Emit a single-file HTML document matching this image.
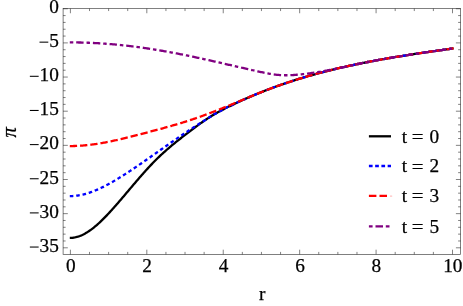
<!DOCTYPE html>
<html><head><meta charset="utf-8"><title>plot</title>
<style>
html,body{margin:0;padding:0;background:#fff;}
body{width:463px;height:306px;overflow:hidden;}
svg{display:block;font-family:"Liberation Serif",serif;fill:#000;will-change:transform;}
text{stroke:#000;stroke-width:0.25px;}
.c{fill:none;stroke-width:2.3;stroke-linecap:butt;stroke-linejoin:round;}
</style></head>
<body>
<svg width="463" height="306" viewBox="0 0 463 306">
<rect x="0" y="0" width="463" height="306" fill="#fff"/>
<g>
<path class="c" d="M69.80,237.87 L70.80,237.87 L71.80,237.83 L72.80,237.75 L73.80,237.62 L74.80,237.45 L75.80,237.24 L76.80,236.99 L77.80,236.71 L78.80,236.38 L79.80,236.02 L80.80,235.62 L81.80,235.19 L82.80,234.72 L83.80,234.22 L84.80,233.69 L85.80,233.12 L86.80,232.53 L87.80,231.90 L88.80,231.24 L89.80,230.56 L90.80,229.85 L91.80,229.11 L92.80,228.34 L93.80,227.55 L94.80,226.73 L95.80,225.89 L96.80,225.03 L97.80,224.15 L98.80,223.24 L99.80,222.32 L100.80,221.37 L101.80,220.41 L102.80,219.43 L103.80,218.43 L104.80,217.42 L105.80,216.39 L106.80,215.34 L107.80,214.28 L108.80,213.21 L109.80,212.13 L110.80,211.04 L111.80,209.93 L112.80,208.82 L113.80,207.70 L114.80,206.57 L115.80,205.43 L116.80,204.29 L117.80,203.14 L118.80,201.98 L119.80,200.82 L120.80,199.66 L121.80,198.49 L122.80,197.32 L123.80,196.15 L124.80,194.97 L125.80,193.79 L126.80,192.61 L127.80,191.43 L128.80,190.25 L129.80,189.07 L130.80,187.88 L131.80,186.70 L132.80,185.53 L133.80,184.35 L134.80,183.18 L135.80,182.00 L136.80,180.84 L137.80,179.67 L138.80,178.52 L139.80,177.36 L140.80,176.21 L141.80,175.07 L142.80,173.94 L143.80,172.81 L144.80,171.69 L145.80,170.58 L146.80,169.47 L147.80,168.38 L148.80,167.29 L149.80,166.22 L150.80,165.15 L151.80,164.10 L152.80,163.06 L153.80,162.03 L154.80,161.01 L155.80,160.01 L156.80,159.02 L157.80,158.04 L158.80,157.08 L159.80,156.12 L160.80,155.18 L161.80,154.25 L162.80,153.33 L163.80,152.42 L164.80,151.53 L165.80,150.64 L166.80,149.76 L167.80,148.89 L168.80,148.03 L169.80,147.18 L170.80,146.33 L171.80,145.49 L172.80,144.66 L173.80,143.84 L174.80,143.02 L175.80,142.21 L176.80,141.41 L177.80,140.61 L178.80,139.82 L179.80,139.03 L180.80,138.24 L181.80,137.46 L182.80,136.68 L183.80,135.91 L184.80,135.14 L185.80,134.37 L186.80,133.60 L187.80,132.83 L188.80,132.07 L189.80,131.31 L190.80,130.55 L191.80,129.79 L192.80,129.03 L193.80,128.28 L194.80,127.54 L195.80,126.79 L196.80,126.06 L197.80,125.32 L198.80,124.60 L199.80,123.87 L200.80,123.16 L201.80,122.45 L202.80,121.75 L203.80,121.05 L204.80,120.37 L205.80,119.69 L206.80,119.02 L207.80,118.36 L208.80,117.71 L209.80,117.07 L210.80,116.44 L211.80,115.82 L212.80,115.21 L213.80,114.61 L214.80,114.03 L215.80,113.45 L216.80,112.88 L217.80,112.32 L218.80,111.76 L219.80,111.22 L220.80,110.68 L221.80,110.15 L222.80,109.62 L223.80,109.11 L224.80,108.59 L225.80,108.09 L226.80,107.58 L227.80,107.08 L228.80,106.59 L229.80,106.10 L230.80,105.61 L231.80,105.13 L232.80,104.65 L233.80,104.17 L234.80,103.69 L235.80,103.22 L236.80,102.75 L237.80,102.29 L238.80,101.82 L239.80,101.36 L240.80,100.91 L241.80,100.45 L242.80,100.00 L243.80,99.55 L244.80,99.11 L245.80,98.66 L246.80,98.22 L247.80,97.79 L248.80,97.35 L249.80,96.92 L250.80,96.49 L251.80,96.07 L252.80,95.64 L253.80,95.22 L254.80,94.81 L255.80,94.39 L256.80,93.98 L257.80,93.57 L258.80,93.16 L259.80,92.76 L260.80,92.36 L261.80,91.96 L262.80,91.56 L263.80,91.17 L264.80,90.78 L265.80,90.39 L266.80,90.01 L267.80,89.62 L268.80,89.24 L269.80,88.87 L270.80,88.49 L271.80,88.12 L272.80,87.75 L273.80,87.38 L274.80,87.01 L275.80,86.65 L276.80,86.29 L277.80,85.93 L278.80,85.58 L279.80,85.23 L280.80,84.87 L281.80,84.53 L282.80,84.18 L283.80,83.84 L284.80,83.50 L285.80,83.16 L286.80,82.82 L287.80,82.49 L288.80,82.15 L289.80,81.82 L290.80,81.50 L291.80,81.17 L292.80,80.85 L293.80,80.53 L294.80,80.21 L295.80,79.89 L296.80,79.58 L297.80,79.27 L298.80,78.96 L299.80,78.65 L300.80,78.34 L301.80,78.04 L302.80,77.74 L303.80,77.44 L304.80,77.14 L305.80,76.85 L306.80,76.56 L307.80,76.26 L308.80,75.98 L309.80,75.69 L310.80,75.40 L311.80,75.12 L312.80,74.84 L313.80,74.56 L314.80,74.28 L315.80,74.01 L316.80,73.73 L317.80,73.46 L318.80,73.19 L319.80,72.92 L320.80,72.66 L321.80,72.39 L322.80,72.13 L323.80,71.87 L324.80,71.61 L325.80,71.36 L326.80,71.10 L327.80,70.85 L328.80,70.60 L329.80,70.35 L330.80,70.10 L331.80,69.85 L332.80,69.61 L333.80,69.36 L334.80,69.12 L335.80,68.88 L336.80,68.65 L337.80,68.41 L338.80,68.17 L339.80,67.94 L340.80,67.71 L341.80,67.48 L342.80,67.25 L343.80,67.02 L344.80,66.80 L345.80,66.57 L346.80,66.35 L347.80,66.13 L348.80,65.91 L349.80,65.69 L350.80,65.48 L351.80,65.26 L352.80,65.05 L353.80,64.83 L354.80,64.62 L355.80,64.41 L356.80,64.20 L357.80,64.00 L358.80,63.79 L359.80,63.59 L360.80,63.38 L361.80,63.18 L362.80,62.98 L363.80,62.78 L364.80,62.59 L365.80,62.39 L366.80,62.19 L367.80,62.00 L368.80,61.81 L369.80,61.61 L370.80,61.42 L371.80,61.23 L372.80,61.05 L373.80,60.86 L374.80,60.67 L375.80,60.49 L376.80,60.30 L377.80,60.12 L378.80,59.94 L379.80,59.76 L380.80,59.58 L381.80,59.40 L382.80,59.22 L383.80,59.04 L384.80,58.87 L385.80,58.69 L386.80,58.52 L387.80,58.35 L388.80,58.17 L389.80,58.00 L390.80,57.83 L391.80,57.66 L392.80,57.50 L393.80,57.33 L394.80,57.16 L395.80,56.99 L396.80,56.83 L397.80,56.67 L398.80,56.50 L399.80,56.34 L400.80,56.18 L401.80,56.02 L402.80,55.85 L403.80,55.70 L404.80,55.54 L405.80,55.38 L406.80,55.22 L407.80,55.06 L408.80,54.91 L409.80,54.75 L410.80,54.60 L411.80,54.44 L412.80,54.29 L413.80,54.13 L414.80,53.98 L415.80,53.83 L416.80,53.68 L417.80,53.53 L418.80,53.37 L419.80,53.22 L420.80,53.07 L421.80,52.93 L422.80,52.78 L423.80,52.63 L424.80,52.48 L425.80,52.33 L426.80,52.19 L427.80,52.04 L428.80,51.89 L429.80,51.75 L430.80,51.60 L431.80,51.46 L432.80,51.31 L433.80,51.17 L434.80,51.02 L435.80,50.88 L436.80,50.73 L437.80,50.59 L438.80,50.45 L439.80,50.30 L440.80,50.16 L441.80,50.02 L442.80,49.88 L443.80,49.73 L444.80,49.59 L445.80,49.45 L446.80,49.31 L447.80,49.17 L448.80,49.02 L449.80,48.88 L450.80,48.74 L451.80,48.60 L452.80,48.46 L453.60,48.35" stroke="#000"/>
<path class="c" d="M69.80,196.08 L70.80,196.07 L71.80,196.04 L72.80,196.00 L73.80,195.93 L74.80,195.85 L75.80,195.75 L76.80,195.62 L77.80,195.49 L78.80,195.33 L79.80,195.16 L80.80,194.97 L81.80,194.76 L82.80,194.54 L83.80,194.30 L84.80,194.04 L85.80,193.77 L86.80,193.48 L87.80,193.18 L88.80,192.87 L89.80,192.54 L90.80,192.20 L91.80,191.84 L92.80,191.47 L93.80,191.08 L94.80,190.69 L95.80,190.28 L96.80,189.86 L97.80,189.43 L98.80,188.98 L99.80,188.53 L100.80,188.06 L101.80,187.58 L102.80,187.10 L103.80,186.60 L104.80,186.09 L105.80,185.57 L106.80,185.05 L107.80,184.51 L108.80,183.97 L109.80,183.42 L110.80,182.86 L111.80,182.29 L112.80,181.71 L113.80,181.13 L114.80,180.54 L115.80,179.95 L116.80,179.35 L117.80,178.74 L118.80,178.13 L119.80,177.51 L120.80,176.88 L121.80,176.26 L122.80,175.62 L123.80,174.99 L124.80,174.35 L125.80,173.70 L126.80,173.05 L127.80,172.40 L128.80,171.75 L129.80,171.09 L130.80,170.43 L131.80,169.77 L132.80,169.10 L133.80,168.43 L134.80,167.76 L135.80,167.09 L136.80,166.41 L137.80,165.73 L138.80,165.05 L139.80,164.37 L140.80,163.68 L141.80,162.99 L142.80,162.31 L143.80,161.61 L144.80,160.92 L145.80,160.23 L146.80,159.53 L147.80,158.84 L148.80,158.14 L149.80,157.44 L150.80,156.74 L151.80,156.04 L152.80,155.34 L153.80,154.64 L154.80,153.94 L155.80,153.24 L156.80,152.54 L157.80,151.83 L158.80,151.13 L159.80,150.43 L160.80,149.72 L161.80,149.02 L162.80,148.32 L163.80,147.62 L164.80,146.92 L165.80,146.22 L166.80,145.52 L167.80,144.82 L168.80,144.12 L169.80,143.43 L170.80,142.73 L171.80,142.04 L172.80,141.34 L173.80,140.65 L174.80,139.96 L175.80,139.28 L176.80,138.59 L177.80,137.91 L178.80,137.22 L179.80,136.54 L180.80,135.86 L181.80,135.19 L182.80,134.51 L183.80,133.84 L184.80,133.17 L185.80,132.50 L186.80,131.84 L187.80,131.17 L188.80,130.51 L189.80,129.85 L190.80,129.20 L191.80,128.54 L192.80,127.89 L193.80,127.24 L194.80,126.60 L195.80,125.95 L196.80,125.31 L197.80,124.68 L198.80,124.04 L199.80,123.41 L200.80,122.78 L201.80,122.16 L202.80,121.54 L203.80,120.93 L204.80,120.31 L205.80,119.69 L206.80,119.06 L207.80,118.42 L208.80,117.78 L209.80,117.13 L210.80,116.48 L211.80,115.85 L212.80,115.22 L213.80,114.61 L214.80,114.03 L215.80,113.45 L216.80,112.88 L217.80,112.32 L218.80,111.76 L219.80,111.22 L220.80,110.68 L221.80,110.15 L222.80,109.62 L223.80,109.11 L224.80,108.59 L225.80,108.09 L226.80,107.58 L227.80,107.08 L228.80,106.59 L229.80,106.10 L230.80,105.61 L231.80,105.13 L232.80,104.65 L233.80,104.17 L234.80,103.69 L235.80,103.22 L236.80,102.75 L237.80,102.29 L238.80,101.82 L239.80,101.36 L240.80,100.91 L241.80,100.45 L242.80,100.00 L243.80,99.55 L244.80,99.11 L245.80,98.66 L246.80,98.22 L247.80,97.79 L248.80,97.35 L249.80,96.92 L250.80,96.49 L251.80,96.07 L252.80,95.64 L253.80,95.22 L254.80,94.81 L255.80,94.39 L256.80,93.98 L257.80,93.57 L258.80,93.16 L259.80,92.76 L260.80,92.36 L261.80,91.96 L262.80,91.56 L263.80,91.17 L264.80,90.78 L265.80,90.39 L266.80,90.01 L267.80,89.62 L268.80,89.24 L269.80,88.87 L270.80,88.49 L271.80,88.12 L272.80,87.75 L273.80,87.38 L274.80,87.01 L275.80,86.65 L276.80,86.29 L277.80,85.93 L278.80,85.58 L279.80,85.23 L280.80,84.87 L281.80,84.53 L282.80,84.18 L283.80,83.84 L284.80,83.50 L285.80,83.16 L286.80,82.82 L287.80,82.49 L288.80,82.15 L289.80,81.82 L290.80,81.50 L291.80,81.17 L292.80,80.85 L293.80,80.53 L294.80,80.21 L295.80,79.89 L296.80,79.58 L297.80,79.27 L298.80,78.96 L299.80,78.65 L300.80,78.34 L301.80,78.04 L302.80,77.74 L303.80,77.44 L304.80,77.14 L305.80,76.85 L306.80,76.56 L307.80,76.26 L308.80,75.98 L309.80,75.69 L310.80,75.40 L311.80,75.12 L312.80,74.84 L313.80,74.56 L314.80,74.28 L315.80,74.01 L316.80,73.73 L317.80,73.46 L318.80,73.19 L319.80,72.92 L320.80,72.66 L321.80,72.39 L322.80,72.13 L323.80,71.87 L324.80,71.61 L325.80,71.36 L326.80,71.10 L327.80,70.85 L328.80,70.60 L329.80,70.35 L330.80,70.10 L331.80,69.85 L332.80,69.61 L333.80,69.36 L334.80,69.12 L335.80,68.88 L336.80,68.65 L337.80,68.41 L338.80,68.17 L339.80,67.94 L340.80,67.71 L341.80,67.48 L342.80,67.25 L343.80,67.02 L344.80,66.80 L345.80,66.57 L346.80,66.35 L347.80,66.13 L348.80,65.91 L349.80,65.69 L350.80,65.48 L351.80,65.26 L352.80,65.05 L353.80,64.83 L354.80,64.62 L355.80,64.41 L356.80,64.20 L357.80,64.00 L358.80,63.79 L359.80,63.59 L360.80,63.38 L361.80,63.18 L362.80,62.98 L363.80,62.78 L364.80,62.59 L365.80,62.39 L366.80,62.19 L367.80,62.00 L368.80,61.81 L369.80,61.61 L370.80,61.42 L371.80,61.23 L372.80,61.05 L373.80,60.86 L374.80,60.67 L375.80,60.49 L376.80,60.30 L377.80,60.12 L378.80,59.94 L379.80,59.76 L380.80,59.58 L381.80,59.40 L382.80,59.22 L383.80,59.04 L384.80,58.87 L385.80,58.69 L386.80,58.52 L387.80,58.35 L388.80,58.17 L389.80,58.00 L390.80,57.83 L391.80,57.66 L392.80,57.50 L393.80,57.33 L394.80,57.16 L395.80,56.99 L396.80,56.83 L397.80,56.67 L398.80,56.50 L399.80,56.34 L400.80,56.18 L401.80,56.02 L402.80,55.85 L403.80,55.70 L404.80,55.54 L405.80,55.38 L406.80,55.22 L407.80,55.06 L408.80,54.91 L409.80,54.75 L410.80,54.60 L411.80,54.44 L412.80,54.29 L413.80,54.13 L414.80,53.98 L415.80,53.83 L416.80,53.68 L417.80,53.53 L418.80,53.37 L419.80,53.22 L420.80,53.07 L421.80,52.93 L422.80,52.78 L423.80,52.63 L424.80,52.48 L425.80,52.33 L426.80,52.19 L427.80,52.04 L428.80,51.89 L429.80,51.75 L430.80,51.60 L431.80,51.46 L432.80,51.31 L433.80,51.17 L434.80,51.02 L435.80,50.88 L436.80,50.73 L437.80,50.59 L438.80,50.45 L439.80,50.30 L440.80,50.16 L441.80,50.02 L442.80,49.88 L443.80,49.73 L444.80,49.59 L445.80,49.45 L446.80,49.31 L447.80,49.17 L448.80,49.02 L449.80,48.88 L450.80,48.74 L451.80,48.60 L452.80,48.46 L453.60,48.35" stroke="#0000ff" stroke-dasharray="3.55 2.875"/>
<path class="c" d="M69.80,146.04 L70.80,146.05 L71.80,146.04 L72.80,146.03 L73.80,146.01 L74.80,145.98 L75.80,145.95 L76.80,145.91 L77.80,145.86 L78.80,145.81 L79.80,145.75 L80.80,145.68 L81.80,145.61 L82.80,145.54 L83.80,145.45 L84.80,145.36 L85.80,145.27 L86.80,145.17 L87.80,145.06 L88.80,144.95 L89.80,144.83 L90.80,144.71 L91.80,144.59 L92.80,144.45 L93.80,144.32 L94.80,144.17 L95.80,144.03 L96.80,143.88 L97.80,143.72 L98.80,143.56 L99.80,143.40 L100.80,143.23 L101.80,143.05 L102.80,142.88 L103.80,142.70 L104.80,142.51 L105.80,142.32 L106.80,142.13 L107.80,141.94 L108.80,141.74 L109.80,141.53 L110.80,141.33 L111.80,141.12 L112.80,140.90 L113.80,140.69 L114.80,140.47 L115.80,140.25 L116.80,140.03 L117.80,139.80 L118.80,139.57 L119.80,139.34 L120.80,139.10 L121.80,138.87 L122.80,138.63 L123.80,138.39 L124.80,138.15 L125.80,137.90 L126.80,137.66 L127.80,137.41 L128.80,137.16 L129.80,136.91 L130.80,136.66 L131.80,136.41 L132.80,136.15 L133.80,135.90 L134.80,135.64 L135.80,135.38 L136.80,135.12 L137.80,134.86 L138.80,134.60 L139.80,134.34 L140.80,134.08 L141.80,133.82 L142.80,133.56 L143.80,133.30 L144.80,133.04 L145.80,132.78 L146.80,132.52 L147.80,132.26 L148.80,131.99 L149.80,131.73 L150.80,131.47 L151.80,131.21 L152.80,130.94 L153.80,130.68 L154.80,130.41 L155.80,130.15 L156.80,129.88 L157.80,129.62 L158.80,129.35 L159.80,129.08 L160.80,128.81 L161.80,128.54 L162.80,128.27 L163.80,127.99 L164.80,127.72 L165.80,127.44 L166.80,127.17 L167.80,126.89 L168.80,126.61 L169.80,126.32 L170.80,126.04 L171.80,125.75 L172.80,125.47 L173.80,125.18 L174.80,124.89 L175.80,124.59 L176.80,124.30 L177.80,124.00 L178.80,123.70 L179.80,123.40 L180.80,123.09 L181.80,122.79 L182.80,122.48 L183.80,122.17 L184.80,121.85 L185.80,121.53 L186.80,121.21 L187.80,120.89 L188.80,120.57 L189.80,120.24 L190.80,119.91 L191.80,119.58 L192.80,119.24 L193.80,118.90 L194.80,118.56 L195.80,118.22 L196.80,117.87 L197.80,117.53 L198.80,117.18 L199.80,116.82 L200.80,116.47 L201.80,116.11 L202.80,115.75 L203.80,115.39 L204.80,115.02 L205.80,114.65 L206.80,114.28 L207.80,113.91 L208.80,113.54 L209.80,113.16 L210.80,112.78 L211.80,112.40 L212.80,112.01 L213.80,111.63 L214.80,111.24 L215.80,110.85 L216.80,110.45 L217.80,110.06 L218.80,109.66 L219.80,109.26 L220.80,108.86 L221.80,108.46 L222.80,108.05 L223.80,107.65 L224.80,107.24 L225.80,106.83 L226.80,106.42 L227.80,106.01 L228.80,105.60 L229.80,105.19 L230.80,104.77 L231.80,104.36 L232.80,103.94 L233.80,103.53 L234.80,103.11 L235.80,102.70 L236.80,102.28 L237.80,101.86 L238.80,101.44 L239.80,101.03 L240.80,100.61 L241.80,100.19 L242.80,99.78 L243.80,99.36 L244.80,98.94 L245.80,98.53 L246.80,98.11 L247.80,97.70 L248.80,97.28 L249.80,96.87 L250.80,96.46 L251.80,96.05 L252.80,95.63 L253.80,95.23 L254.80,94.82 L255.80,94.41 L256.80,94.00 L257.80,93.59 L258.80,93.19 L259.80,92.78 L260.80,92.38 L261.80,91.97 L262.80,91.57 L263.80,91.18 L264.80,90.78 L265.80,90.39 L266.80,90.01 L267.80,89.62 L268.80,89.24 L269.80,88.87 L270.80,88.49 L271.80,88.12 L272.80,87.75 L273.80,87.38 L274.80,87.01 L275.80,86.65 L276.80,86.29 L277.80,85.93 L278.80,85.58 L279.80,85.23 L280.80,84.87 L281.80,84.53 L282.80,84.18 L283.80,83.84 L284.80,83.50 L285.80,83.16 L286.80,82.82 L287.80,82.49 L288.80,82.15 L289.80,81.82 L290.80,81.50 L291.80,81.17 L292.80,80.85 L293.80,80.53 L294.80,80.21 L295.80,79.89 L296.80,79.58 L297.80,79.27 L298.80,78.96 L299.80,78.65 L300.80,78.34 L301.80,78.04 L302.80,77.74 L303.80,77.44 L304.80,77.14 L305.80,76.85 L306.80,76.56 L307.80,76.26 L308.80,75.98 L309.80,75.69 L310.80,75.40 L311.80,75.12 L312.80,74.84 L313.80,74.56 L314.80,74.28 L315.80,74.01 L316.80,73.73 L317.80,73.46 L318.80,73.19 L319.80,72.92 L320.80,72.66 L321.80,72.39 L322.80,72.13 L323.80,71.87 L324.80,71.61 L325.80,71.36 L326.80,71.10 L327.80,70.85 L328.80,70.60 L329.80,70.35 L330.80,70.10 L331.80,69.85 L332.80,69.61 L333.80,69.36 L334.80,69.12 L335.80,68.88 L336.80,68.65 L337.80,68.41 L338.80,68.17 L339.80,67.94 L340.80,67.71 L341.80,67.48 L342.80,67.25 L343.80,67.02 L344.80,66.80 L345.80,66.57 L346.80,66.35 L347.80,66.13 L348.80,65.91 L349.80,65.69 L350.80,65.48 L351.80,65.26 L352.80,65.05 L353.80,64.83 L354.80,64.62 L355.80,64.41 L356.80,64.20 L357.80,64.00 L358.80,63.79 L359.80,63.59 L360.80,63.38 L361.80,63.18 L362.80,62.98 L363.80,62.78 L364.80,62.59 L365.80,62.39 L366.80,62.19 L367.80,62.00 L368.80,61.81 L369.80,61.61 L370.80,61.42 L371.80,61.23 L372.80,61.05 L373.80,60.86 L374.80,60.67 L375.80,60.49 L376.80,60.30 L377.80,60.12 L378.80,59.94 L379.80,59.76 L380.80,59.58 L381.80,59.40 L382.80,59.22 L383.80,59.04 L384.80,58.87 L385.80,58.69 L386.80,58.52 L387.80,58.35 L388.80,58.17 L389.80,58.00 L390.80,57.83 L391.80,57.66 L392.80,57.50 L393.80,57.33 L394.80,57.16 L395.80,56.99 L396.80,56.83 L397.80,56.67 L398.80,56.50 L399.80,56.34 L400.80,56.18 L401.80,56.02 L402.80,55.85 L403.80,55.70 L404.80,55.54 L405.80,55.38 L406.80,55.22 L407.80,55.06 L408.80,54.91 L409.80,54.75 L410.80,54.60 L411.80,54.44 L412.80,54.29 L413.80,54.13 L414.80,53.98 L415.80,53.83 L416.80,53.68 L417.80,53.53 L418.80,53.37 L419.80,53.22 L420.80,53.07 L421.80,52.93 L422.80,52.78 L423.80,52.63 L424.80,52.48 L425.80,52.33 L426.80,52.19 L427.80,52.04 L428.80,51.89 L429.80,51.75 L430.80,51.60 L431.80,51.46 L432.80,51.31 L433.80,51.17 L434.80,51.02 L435.80,50.88 L436.80,50.73 L437.80,50.59 L438.80,50.45 L439.80,50.30 L440.80,50.16 L441.80,50.02 L442.80,49.88 L443.80,49.73 L444.80,49.59 L445.80,49.45 L446.80,49.31 L447.80,49.17 L448.80,49.02 L449.80,48.88 L450.80,48.74 L451.80,48.60 L452.80,48.46 L453.60,48.35" stroke="#ff0000" stroke-dasharray="7.3 2.98"/>
<path class="c" d="M69.80,42.41 L70.80,42.41 L71.80,42.41 L72.80,42.41 L73.80,42.42 L74.80,42.43 L75.80,42.44 L76.80,42.45 L77.80,42.46 L78.80,42.48 L79.80,42.50 L80.80,42.52 L81.80,42.54 L82.80,42.57 L83.80,42.60 L84.80,42.63 L85.80,42.66 L86.80,42.69 L87.80,42.73 L88.80,42.76 L89.80,42.80 L90.80,42.85 L91.80,42.89 L92.80,42.94 L93.80,42.99 L94.80,43.04 L95.80,43.09 L96.80,43.14 L97.80,43.20 L98.80,43.26 L99.80,43.32 L100.80,43.38 L101.80,43.45 L102.80,43.52 L103.80,43.58 L104.80,43.66 L105.80,43.73 L106.80,43.80 L107.80,43.88 L108.80,43.96 L109.80,44.04 L110.80,44.12 L111.80,44.21 L112.80,44.29 L113.80,44.38 L114.80,44.47 L115.80,44.57 L116.80,44.66 L117.80,44.76 L118.80,44.85 L119.80,44.95 L120.80,45.06 L121.80,45.16 L122.80,45.27 L123.80,45.37 L124.80,45.48 L125.80,45.59 L126.80,45.71 L127.80,45.82 L128.80,45.94 L129.80,46.06 L130.80,46.18 L131.80,46.30 L132.80,46.42 L133.80,46.55 L134.80,46.68 L135.80,46.80 L136.80,46.94 L137.80,47.07 L138.80,47.20 L139.80,47.34 L140.80,47.48 L141.80,47.62 L142.80,47.76 L143.80,47.90 L144.80,48.04 L145.80,48.19 L146.80,48.34 L147.80,48.49 L148.80,48.64 L149.80,48.79 L150.80,48.95 L151.80,49.10 L152.80,49.26 L153.80,49.42 L154.80,49.58 L155.80,49.74 L156.80,49.91 L157.80,50.07 L158.80,50.24 L159.80,50.41 L160.80,50.58 L161.80,50.75 L162.80,50.92 L163.80,51.10 L164.80,51.27 L165.80,51.45 L166.80,51.63 L167.80,51.81 L168.80,51.99 L169.80,52.17 L170.80,52.36 L171.80,52.54 L172.80,52.73 L173.80,52.92 L174.80,53.11 L175.80,53.30 L176.80,53.49 L177.80,53.68 L178.80,53.88 L179.80,54.07 L180.80,54.27 L181.80,54.47 L182.80,54.67 L183.80,54.87 L184.80,55.07 L185.80,55.27 L186.80,55.47 L187.80,55.68 L188.80,55.88 L189.80,56.09 L190.80,56.30 L191.80,56.50 L192.80,56.71 L193.80,56.92 L194.80,57.13 L195.80,57.35 L196.80,57.56 L197.80,57.77 L198.80,57.99 L199.80,58.21 L200.80,58.42 L201.80,58.64 L202.80,58.86 L203.80,59.08 L204.80,59.30 L205.80,59.52 L206.80,59.74 L207.80,59.96 L208.80,60.19 L209.80,60.41 L210.80,60.64 L211.80,60.86 L212.80,61.09 L213.80,61.31 L214.80,61.54 L215.80,61.77 L216.80,62.00 L217.80,62.22 L218.80,62.45 L219.80,62.68 L220.80,62.91 L221.80,63.14 L222.80,63.37 L223.80,63.60 L224.80,63.83 L225.80,64.06 L226.80,64.29 L227.80,64.52 L228.80,64.76 L229.80,64.99 L230.80,65.22 L231.80,65.45 L232.80,65.68 L233.80,65.91 L234.80,66.14 L235.80,66.37 L236.80,66.60 L237.80,66.83 L238.80,67.06 L239.80,67.30 L240.80,67.52 L241.80,67.75 L242.80,67.98 L243.80,68.21 L244.80,68.44 L245.80,68.67 L246.80,68.90 L247.80,69.12 L248.80,69.35 L249.80,69.58 L250.80,69.80 L251.80,70.03 L252.80,70.25 L253.80,70.48 L254.80,70.70 L255.80,70.92 L256.80,71.14 L257.80,71.36 L258.80,71.58 L259.80,71.80 L260.80,72.02 L261.80,72.23 L262.80,72.45 L263.80,72.66 L264.80,72.86 L265.80,73.06 L266.80,73.26 L267.80,73.44 L268.80,73.63 L269.80,73.80 L270.80,73.97 L271.80,74.13 L272.80,74.28 L273.80,74.42 L274.80,74.56 L275.80,74.68 L276.80,74.79 L277.80,74.88 L278.80,74.97 L279.80,75.04 L280.80,75.11 L281.80,75.16 L282.80,75.19 L283.80,75.22 L284.80,75.24 L285.80,75.25 L286.80,75.24 L287.80,75.23 L288.80,75.21 L289.80,75.18 L290.80,75.14 L291.80,75.10 L292.80,75.04 L293.80,74.98 L294.80,74.92 L295.80,74.84 L296.80,74.76 L297.80,74.67 L298.80,74.58 L299.80,74.49 L300.80,74.38 L301.80,74.28 L302.80,74.17 L303.80,74.05 L304.80,73.93 L305.80,73.81 L306.80,73.69 L307.80,73.56 L308.80,73.43 L309.80,73.29 L310.80,73.15 L311.80,73.01 L312.80,72.86 L313.80,72.71 L314.80,72.56 L315.80,72.41 L316.80,72.25 L317.80,72.09 L318.80,71.93 L319.80,71.76 L320.80,71.59 L321.80,71.42 L322.80,71.25 L323.80,71.07 L324.80,70.89 L325.80,70.71 L326.80,70.53 L327.80,70.34 L328.80,70.16 L329.80,69.97 L330.80,69.78 L331.80,69.59 L332.80,69.39 L333.80,69.20 L334.80,69.00 L335.80,68.80 L336.80,68.60 L337.80,68.40 L338.80,68.19 L339.80,67.99 L340.80,67.77 L341.80,67.56 L342.80,67.33 L343.80,67.10 L344.80,66.86 L345.80,66.62 L346.80,66.38 L347.80,66.15 L348.80,65.92 L349.80,65.69 L350.80,65.48 L351.80,65.26 L352.80,65.05 L353.80,64.83 L354.80,64.62 L355.80,64.41 L356.80,64.20 L357.80,64.00 L358.80,63.79 L359.80,63.59 L360.80,63.38 L361.80,63.18 L362.80,62.98 L363.80,62.78 L364.80,62.59 L365.80,62.39 L366.80,62.19 L367.80,62.00 L368.80,61.81 L369.80,61.61 L370.80,61.42 L371.80,61.23 L372.80,61.05 L373.80,60.86 L374.80,60.67 L375.80,60.49 L376.80,60.30 L377.80,60.12 L378.80,59.94 L379.80,59.76 L380.80,59.58 L381.80,59.40 L382.80,59.22 L383.80,59.04 L384.80,58.87 L385.80,58.69 L386.80,58.52 L387.80,58.35 L388.80,58.17 L389.80,58.00 L390.80,57.83 L391.80,57.66 L392.80,57.50 L393.80,57.33 L394.80,57.16 L395.80,56.99 L396.80,56.83 L397.80,56.67 L398.80,56.50 L399.80,56.34 L400.80,56.18 L401.80,56.02 L402.80,55.85 L403.80,55.70 L404.80,55.54 L405.80,55.38 L406.80,55.22 L407.80,55.06 L408.80,54.91 L409.80,54.75 L410.80,54.60 L411.80,54.44 L412.80,54.29 L413.80,54.13 L414.80,53.98 L415.80,53.83 L416.80,53.68 L417.80,53.53 L418.80,53.37 L419.80,53.22 L420.80,53.07 L421.80,52.93 L422.80,52.78 L423.80,52.63 L424.80,52.48 L425.80,52.33 L426.80,52.19 L427.80,52.04 L428.80,51.89 L429.80,51.75 L430.80,51.60 L431.80,51.46 L432.80,51.31 L433.80,51.17 L434.80,51.02 L435.80,50.88 L436.80,50.73 L437.80,50.59 L438.80,50.45 L439.80,50.30 L440.80,50.16 L441.80,50.02 L442.80,49.88 L443.80,49.73 L444.80,49.59 L445.80,49.45 L446.80,49.31 L447.80,49.17 L448.80,49.02 L449.80,48.88 L450.80,48.74 L451.80,48.60 L452.80,48.46 L453.60,48.35" stroke="#800080" stroke-dasharray="3.5 2.9 7.4 2.91"/>
</g>
<rect x="63.1" y="8.55" width="397.5" height="245.85" fill="none" stroke="#4a4a4a" stroke-width="0.7"/>
<g>
<line x1="70.40" y1="254.40" x2="70.40" y2="249.70" stroke="#1a1a1a" stroke-width="0.55"/>
<line x1="70.40" y1="8.55" x2="70.40" y2="13.25" stroke="#1a1a1a" stroke-width="0.55"/>
<line x1="89.51" y1="254.40" x2="89.51" y2="251.90" stroke="#1a1a1a" stroke-width="0.55"/>
<line x1="89.51" y1="8.55" x2="89.51" y2="11.05" stroke="#1a1a1a" stroke-width="0.55"/>
<line x1="108.61" y1="254.40" x2="108.61" y2="251.90" stroke="#1a1a1a" stroke-width="0.55"/>
<line x1="108.61" y1="8.55" x2="108.61" y2="11.05" stroke="#1a1a1a" stroke-width="0.55"/>
<line x1="127.72" y1="254.40" x2="127.72" y2="251.90" stroke="#1a1a1a" stroke-width="0.55"/>
<line x1="127.72" y1="8.55" x2="127.72" y2="11.05" stroke="#1a1a1a" stroke-width="0.55"/>
<line x1="146.82" y1="254.40" x2="146.82" y2="249.70" stroke="#1a1a1a" stroke-width="0.55"/>
<line x1="146.82" y1="8.55" x2="146.82" y2="13.25" stroke="#1a1a1a" stroke-width="0.55"/>
<line x1="165.93" y1="254.40" x2="165.93" y2="251.90" stroke="#1a1a1a" stroke-width="0.55"/>
<line x1="165.93" y1="8.55" x2="165.93" y2="11.05" stroke="#1a1a1a" stroke-width="0.55"/>
<line x1="185.03" y1="254.40" x2="185.03" y2="251.90" stroke="#1a1a1a" stroke-width="0.55"/>
<line x1="185.03" y1="8.55" x2="185.03" y2="11.05" stroke="#1a1a1a" stroke-width="0.55"/>
<line x1="204.14" y1="254.40" x2="204.14" y2="251.90" stroke="#1a1a1a" stroke-width="0.55"/>
<line x1="204.14" y1="8.55" x2="204.14" y2="11.05" stroke="#1a1a1a" stroke-width="0.55"/>
<line x1="223.24" y1="254.40" x2="223.24" y2="249.70" stroke="#1a1a1a" stroke-width="0.55"/>
<line x1="223.24" y1="8.55" x2="223.24" y2="13.25" stroke="#1a1a1a" stroke-width="0.55"/>
<line x1="242.34" y1="254.40" x2="242.34" y2="251.90" stroke="#1a1a1a" stroke-width="0.55"/>
<line x1="242.34" y1="8.55" x2="242.34" y2="11.05" stroke="#1a1a1a" stroke-width="0.55"/>
<line x1="261.45" y1="254.40" x2="261.45" y2="251.90" stroke="#1a1a1a" stroke-width="0.55"/>
<line x1="261.45" y1="8.55" x2="261.45" y2="11.05" stroke="#1a1a1a" stroke-width="0.55"/>
<line x1="280.56" y1="254.40" x2="280.56" y2="251.90" stroke="#1a1a1a" stroke-width="0.55"/>
<line x1="280.56" y1="8.55" x2="280.56" y2="11.05" stroke="#1a1a1a" stroke-width="0.55"/>
<line x1="299.66" y1="254.40" x2="299.66" y2="249.70" stroke="#1a1a1a" stroke-width="0.55"/>
<line x1="299.66" y1="8.55" x2="299.66" y2="13.25" stroke="#1a1a1a" stroke-width="0.55"/>
<line x1="318.76" y1="254.40" x2="318.76" y2="251.90" stroke="#1a1a1a" stroke-width="0.55"/>
<line x1="318.76" y1="8.55" x2="318.76" y2="11.05" stroke="#1a1a1a" stroke-width="0.55"/>
<line x1="337.87" y1="254.40" x2="337.87" y2="251.90" stroke="#1a1a1a" stroke-width="0.55"/>
<line x1="337.87" y1="8.55" x2="337.87" y2="11.05" stroke="#1a1a1a" stroke-width="0.55"/>
<line x1="356.98" y1="254.40" x2="356.98" y2="251.90" stroke="#1a1a1a" stroke-width="0.55"/>
<line x1="356.98" y1="8.55" x2="356.98" y2="11.05" stroke="#1a1a1a" stroke-width="0.55"/>
<line x1="376.08" y1="254.40" x2="376.08" y2="249.70" stroke="#1a1a1a" stroke-width="0.55"/>
<line x1="376.08" y1="8.55" x2="376.08" y2="13.25" stroke="#1a1a1a" stroke-width="0.55"/>
<line x1="395.19" y1="254.40" x2="395.19" y2="251.90" stroke="#1a1a1a" stroke-width="0.55"/>
<line x1="395.19" y1="8.55" x2="395.19" y2="11.05" stroke="#1a1a1a" stroke-width="0.55"/>
<line x1="414.29" y1="254.40" x2="414.29" y2="251.90" stroke="#1a1a1a" stroke-width="0.55"/>
<line x1="414.29" y1="8.55" x2="414.29" y2="11.05" stroke="#1a1a1a" stroke-width="0.55"/>
<line x1="433.39" y1="254.40" x2="433.39" y2="251.90" stroke="#1a1a1a" stroke-width="0.55"/>
<line x1="433.39" y1="8.55" x2="433.39" y2="11.05" stroke="#1a1a1a" stroke-width="0.55"/>
<line x1="452.50" y1="254.40" x2="452.50" y2="249.70" stroke="#1a1a1a" stroke-width="0.55"/>
<line x1="452.50" y1="8.55" x2="452.50" y2="13.25" stroke="#1a1a1a" stroke-width="0.55"/>
<line x1="63.10" y1="8.75" x2="67.80" y2="8.75" stroke="#1a1a1a" stroke-width="0.55"/>
<line x1="460.60" y1="8.75" x2="455.90" y2="8.75" stroke="#1a1a1a" stroke-width="0.55"/>
<line x1="63.10" y1="15.58" x2="65.60" y2="15.58" stroke="#1a1a1a" stroke-width="0.55"/>
<line x1="460.60" y1="15.58" x2="458.10" y2="15.58" stroke="#1a1a1a" stroke-width="0.55"/>
<line x1="63.10" y1="22.41" x2="65.60" y2="22.41" stroke="#1a1a1a" stroke-width="0.55"/>
<line x1="460.60" y1="22.41" x2="458.10" y2="22.41" stroke="#1a1a1a" stroke-width="0.55"/>
<line x1="63.10" y1="29.24" x2="65.60" y2="29.24" stroke="#1a1a1a" stroke-width="0.55"/>
<line x1="460.60" y1="29.24" x2="458.10" y2="29.24" stroke="#1a1a1a" stroke-width="0.55"/>
<line x1="63.10" y1="36.07" x2="65.60" y2="36.07" stroke="#1a1a1a" stroke-width="0.55"/>
<line x1="460.60" y1="36.07" x2="458.10" y2="36.07" stroke="#1a1a1a" stroke-width="0.55"/>
<line x1="63.10" y1="42.90" x2="67.80" y2="42.90" stroke="#1a1a1a" stroke-width="0.55"/>
<line x1="460.60" y1="42.90" x2="455.90" y2="42.90" stroke="#1a1a1a" stroke-width="0.55"/>
<line x1="63.10" y1="49.73" x2="65.60" y2="49.73" stroke="#1a1a1a" stroke-width="0.55"/>
<line x1="460.60" y1="49.73" x2="458.10" y2="49.73" stroke="#1a1a1a" stroke-width="0.55"/>
<line x1="63.10" y1="56.56" x2="65.60" y2="56.56" stroke="#1a1a1a" stroke-width="0.55"/>
<line x1="460.60" y1="56.56" x2="458.10" y2="56.56" stroke="#1a1a1a" stroke-width="0.55"/>
<line x1="63.10" y1="63.39" x2="65.60" y2="63.39" stroke="#1a1a1a" stroke-width="0.55"/>
<line x1="460.60" y1="63.39" x2="458.10" y2="63.39" stroke="#1a1a1a" stroke-width="0.55"/>
<line x1="63.10" y1="70.22" x2="65.60" y2="70.22" stroke="#1a1a1a" stroke-width="0.55"/>
<line x1="460.60" y1="70.22" x2="458.10" y2="70.22" stroke="#1a1a1a" stroke-width="0.55"/>
<line x1="63.10" y1="77.05" x2="67.80" y2="77.05" stroke="#1a1a1a" stroke-width="0.55"/>
<line x1="460.60" y1="77.05" x2="455.90" y2="77.05" stroke="#1a1a1a" stroke-width="0.55"/>
<line x1="63.10" y1="83.88" x2="65.60" y2="83.88" stroke="#1a1a1a" stroke-width="0.55"/>
<line x1="460.60" y1="83.88" x2="458.10" y2="83.88" stroke="#1a1a1a" stroke-width="0.55"/>
<line x1="63.10" y1="90.71" x2="65.60" y2="90.71" stroke="#1a1a1a" stroke-width="0.55"/>
<line x1="460.60" y1="90.71" x2="458.10" y2="90.71" stroke="#1a1a1a" stroke-width="0.55"/>
<line x1="63.10" y1="97.54" x2="65.60" y2="97.54" stroke="#1a1a1a" stroke-width="0.55"/>
<line x1="460.60" y1="97.54" x2="458.10" y2="97.54" stroke="#1a1a1a" stroke-width="0.55"/>
<line x1="63.10" y1="104.37" x2="65.60" y2="104.37" stroke="#1a1a1a" stroke-width="0.55"/>
<line x1="460.60" y1="104.37" x2="458.10" y2="104.37" stroke="#1a1a1a" stroke-width="0.55"/>
<line x1="63.10" y1="111.20" x2="67.80" y2="111.20" stroke="#1a1a1a" stroke-width="0.55"/>
<line x1="460.60" y1="111.20" x2="455.90" y2="111.20" stroke="#1a1a1a" stroke-width="0.55"/>
<line x1="63.10" y1="118.03" x2="65.60" y2="118.03" stroke="#1a1a1a" stroke-width="0.55"/>
<line x1="460.60" y1="118.03" x2="458.10" y2="118.03" stroke="#1a1a1a" stroke-width="0.55"/>
<line x1="63.10" y1="124.86" x2="65.60" y2="124.86" stroke="#1a1a1a" stroke-width="0.55"/>
<line x1="460.60" y1="124.86" x2="458.10" y2="124.86" stroke="#1a1a1a" stroke-width="0.55"/>
<line x1="63.10" y1="131.69" x2="65.60" y2="131.69" stroke="#1a1a1a" stroke-width="0.55"/>
<line x1="460.60" y1="131.69" x2="458.10" y2="131.69" stroke="#1a1a1a" stroke-width="0.55"/>
<line x1="63.10" y1="138.52" x2="65.60" y2="138.52" stroke="#1a1a1a" stroke-width="0.55"/>
<line x1="460.60" y1="138.52" x2="458.10" y2="138.52" stroke="#1a1a1a" stroke-width="0.55"/>
<line x1="63.10" y1="145.35" x2="67.80" y2="145.35" stroke="#1a1a1a" stroke-width="0.55"/>
<line x1="460.60" y1="145.35" x2="455.90" y2="145.35" stroke="#1a1a1a" stroke-width="0.55"/>
<line x1="63.10" y1="152.18" x2="65.60" y2="152.18" stroke="#1a1a1a" stroke-width="0.55"/>
<line x1="460.60" y1="152.18" x2="458.10" y2="152.18" stroke="#1a1a1a" stroke-width="0.55"/>
<line x1="63.10" y1="159.01" x2="65.60" y2="159.01" stroke="#1a1a1a" stroke-width="0.55"/>
<line x1="460.60" y1="159.01" x2="458.10" y2="159.01" stroke="#1a1a1a" stroke-width="0.55"/>
<line x1="63.10" y1="165.84" x2="65.60" y2="165.84" stroke="#1a1a1a" stroke-width="0.55"/>
<line x1="460.60" y1="165.84" x2="458.10" y2="165.84" stroke="#1a1a1a" stroke-width="0.55"/>
<line x1="63.10" y1="172.67" x2="65.60" y2="172.67" stroke="#1a1a1a" stroke-width="0.55"/>
<line x1="460.60" y1="172.67" x2="458.10" y2="172.67" stroke="#1a1a1a" stroke-width="0.55"/>
<line x1="63.10" y1="179.50" x2="67.80" y2="179.50" stroke="#1a1a1a" stroke-width="0.55"/>
<line x1="460.60" y1="179.50" x2="455.90" y2="179.50" stroke="#1a1a1a" stroke-width="0.55"/>
<line x1="63.10" y1="186.33" x2="65.60" y2="186.33" stroke="#1a1a1a" stroke-width="0.55"/>
<line x1="460.60" y1="186.33" x2="458.10" y2="186.33" stroke="#1a1a1a" stroke-width="0.55"/>
<line x1="63.10" y1="193.16" x2="65.60" y2="193.16" stroke="#1a1a1a" stroke-width="0.55"/>
<line x1="460.60" y1="193.16" x2="458.10" y2="193.16" stroke="#1a1a1a" stroke-width="0.55"/>
<line x1="63.10" y1="199.99" x2="65.60" y2="199.99" stroke="#1a1a1a" stroke-width="0.55"/>
<line x1="460.60" y1="199.99" x2="458.10" y2="199.99" stroke="#1a1a1a" stroke-width="0.55"/>
<line x1="63.10" y1="206.82" x2="65.60" y2="206.82" stroke="#1a1a1a" stroke-width="0.55"/>
<line x1="460.60" y1="206.82" x2="458.10" y2="206.82" stroke="#1a1a1a" stroke-width="0.55"/>
<line x1="63.10" y1="213.65" x2="67.80" y2="213.65" stroke="#1a1a1a" stroke-width="0.55"/>
<line x1="460.60" y1="213.65" x2="455.90" y2="213.65" stroke="#1a1a1a" stroke-width="0.55"/>
<line x1="63.10" y1="220.48" x2="65.60" y2="220.48" stroke="#1a1a1a" stroke-width="0.55"/>
<line x1="460.60" y1="220.48" x2="458.10" y2="220.48" stroke="#1a1a1a" stroke-width="0.55"/>
<line x1="63.10" y1="227.31" x2="65.60" y2="227.31" stroke="#1a1a1a" stroke-width="0.55"/>
<line x1="460.60" y1="227.31" x2="458.10" y2="227.31" stroke="#1a1a1a" stroke-width="0.55"/>
<line x1="63.10" y1="234.14" x2="65.60" y2="234.14" stroke="#1a1a1a" stroke-width="0.55"/>
<line x1="460.60" y1="234.14" x2="458.10" y2="234.14" stroke="#1a1a1a" stroke-width="0.55"/>
<line x1="63.10" y1="240.97" x2="65.60" y2="240.97" stroke="#1a1a1a" stroke-width="0.55"/>
<line x1="460.60" y1="240.97" x2="458.10" y2="240.97" stroke="#1a1a1a" stroke-width="0.55"/>
<line x1="63.10" y1="247.80" x2="67.80" y2="247.80" stroke="#1a1a1a" stroke-width="0.55"/>
<line x1="460.60" y1="247.80" x2="455.90" y2="247.80" stroke="#1a1a1a" stroke-width="0.55"/>
</g>
<g>
<text x="58.90" y="12.80" text-anchor="end" font-size="19.3" >0</text>
<text x="58.90" y="46.95" text-anchor="end" font-size="19.3" >5</text>
<line x1="39.50" y1="42.15" x2="48.30" y2="42.15" stroke="#000" stroke-width="1.05"/>
<text x="58.90" y="81.10" text-anchor="end" font-size="19.3" >10</text>
<line x1="29.85" y1="76.30" x2="38.65" y2="76.30" stroke="#000" stroke-width="1.05"/>
<text x="58.90" y="115.25" text-anchor="end" font-size="19.3" >15</text>
<line x1="29.85" y1="110.45" x2="38.65" y2="110.45" stroke="#000" stroke-width="1.05"/>
<text x="58.90" y="149.40" text-anchor="end" font-size="19.3" >20</text>
<line x1="29.85" y1="144.60" x2="38.65" y2="144.60" stroke="#000" stroke-width="1.05"/>
<text x="58.90" y="183.55" text-anchor="end" font-size="19.3" >25</text>
<line x1="29.85" y1="178.75" x2="38.65" y2="178.75" stroke="#000" stroke-width="1.05"/>
<text x="58.90" y="217.70" text-anchor="end" font-size="19.3" >30</text>
<line x1="29.85" y1="212.90" x2="38.65" y2="212.90" stroke="#000" stroke-width="1.05"/>
<text x="58.90" y="251.85" text-anchor="end" font-size="19.3" >35</text>
<line x1="29.85" y1="247.05" x2="38.65" y2="247.05" stroke="#000" stroke-width="1.05"/>
<text x="70.70" y="271.80" text-anchor="middle" font-size="19.3" >0</text>
<text x="147.12" y="271.80" text-anchor="middle" font-size="19.3" >2</text>
<text x="223.54" y="271.80" text-anchor="middle" font-size="19.3" >4</text>
<text x="299.96" y="271.80" text-anchor="middle" font-size="19.3" >6</text>
<text x="376.38" y="271.80" text-anchor="middle" font-size="19.3" >8</text>
<text x="452.80" y="271.80" text-anchor="middle" font-size="19.3" >10</text>
<text x="262.20" y="299.70" text-anchor="middle" font-size="19.3" >r</text>
<text transform="translate(16.2,132.4) rotate(-90)" text-anchor="middle" font-size="20.5" font-style="italic">π</text>
</g>
<g>
<line x1="368.9" y1="136.3" x2="391.0" y2="136.3" stroke="#000" stroke-width="2.3" />
<text x="401.8" y="142.50" font-size="19.3">t</text>
<text x="411.7" y="142.85" font-size="19.3" textLength="11.7" lengthAdjust="spacingAndGlyphs">=</text>
<text x="429.4" y="142.50" font-size="19.3">0</text>
<line x1="368.9" y1="166.0" x2="391.0" y2="166.0" stroke="#0000ff" stroke-width="2.3" stroke-dasharray="3.7 2.55"/>
<text x="401.8" y="172.20" font-size="19.3">t</text>
<text x="411.7" y="172.55" font-size="19.3" textLength="11.7" lengthAdjust="spacingAndGlyphs">=</text>
<text x="429.4" y="172.20" font-size="19.3">2</text>
<line x1="368.9" y1="195.8" x2="388.5" y2="195.8" stroke="#ff0000" stroke-width="2.3" stroke-dasharray="7.5 3.1"/>
<line x1="390.0" y1="196.10000000000002" x2="392.2" y2="196.10000000000002" stroke="#ff0000" stroke-width="0.7" opacity="0.45"/>
<text x="401.8" y="202.00" font-size="19.3">t</text>
<text x="411.7" y="202.35" font-size="19.3" textLength="11.7" lengthAdjust="spacingAndGlyphs">=</text>
<text x="429.4" y="202.00" font-size="19.3">3</text>
<line x1="368.9" y1="226.3" x2="391.0" y2="226.3" stroke="#800080" stroke-width="2.3" stroke-dasharray="3.7 2.9 7.5 2.8 3.7 20"/>
<text x="401.8" y="232.50" font-size="19.3">t</text>
<text x="411.7" y="232.85" font-size="19.3" textLength="11.7" lengthAdjust="spacingAndGlyphs">=</text>
<text x="429.4" y="232.50" font-size="19.3">5</text>
</g>
</svg>
</body></html>
